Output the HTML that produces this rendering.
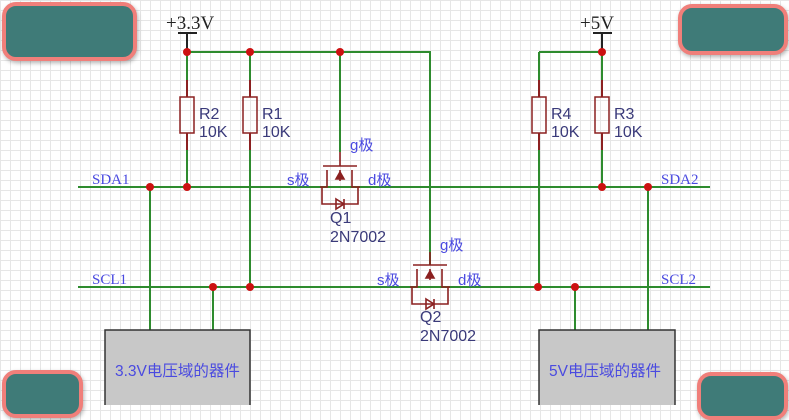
<!DOCTYPE html>
<html><head><meta charset="utf-8"><style>
html,body{margin:0;padding:0;}
body{width:789px;height:405px;overflow:hidden;background:#fff;
background-image:linear-gradient(#e6e6e6 1px,transparent 1px),linear-gradient(90deg,#e6e6e6 1px,transparent 1px);background-size:10px 10px;position:relative;font-family:"Liberation Sans","Noto Sans CJK SC",sans-serif;}
svg{position:absolute;left:0;top:0}
.tb{position:absolute;background:#3f7b78;border:4px solid #f07f7a;border-radius:14px;box-shadow:1px 2px 4px rgba(0,0,0,.3)}
</style></head><body>
<svg width="789" height="405" xmlns="http://www.w3.org/2000/svg">
<g fill="none" stroke-width="2">
<path d="M178 33H197M187 33V52M593 33H612M602 33V52" stroke="#222"/>
<g stroke="#2e8b2e">
<path d="M187 52H430V265"/>
<path d="M187 52V80M187 150V187M250 52V80M250 150V287"/>
<path d="M340 52V152"/>
<path d="M539 52H602M539 52V80M539 150V287M602 52V80M602 150V187"/>
<path d="M78 187H710M78 287H710"/>
<path d="M150 187V330M213 287V330M648 187V330M575 287V330"/>
</g>
<g stroke="#8b2020">
<path d="M187 80V97M187 133V150M250 80V97M250 133V150M539 80V97M539 133V150M602 80V97M602 133V150"/>
<rect x="180" y="97" width="14" height="36" stroke-width="1.5"/>
<rect x="243" y="97" width="14" height="36" stroke-width="1.5"/>
<rect x="532" y="97" width="14" height="36" stroke-width="1.5"/>
<rect x="595" y="97" width="14" height="36" stroke-width="1.5"/>
</g>
<g stroke="#8b2020" stroke-width="1.6">
<path d="M340 152V166M323 166H357M327 170V187H320M352 170V187H360M340 170V181M322 187V204H358V187"/>
<path d="M336 179L340 172L344 179Z" fill="#8b2020"/>
<path d="M336 199L344 204L336 209Z"/><path d="M344 199V209"/>
<path d="M430 252V265M413 265H447M417 269V287H410M442 269V287H450M430 269V280M412 287V304H448V287"/>
<path d="M426 278L430 271L434 278Z" fill="#8b2020"/>
<path d="M426 299L434 304L426 309Z"/><path d="M434 299V309"/>
</g>
</g>
<g fill="#cc1111">
<circle cx="187" cy="52" r="4"/><circle cx="250" cy="52" r="4"/><circle cx="340" cy="52" r="4"/><circle cx="602" cy="52" r="4"/>
<circle cx="150" cy="187" r="4"/><circle cx="187" cy="187" r="4"/><circle cx="602" cy="187" r="4"/><circle cx="648" cy="187" r="4"/>
<circle cx="213" cy="287" r="4"/><circle cx="250" cy="287" r="4"/><circle cx="538" cy="287" r="4"/><circle cx="575" cy="287" r="4"/>
</g>
<rect x="105" y="330" width="145" height="80" fill="#c8c8c8" stroke="#333" stroke-width="1.5"/>
<rect x="539" y="330" width="136" height="80" fill="#c8c8c8" stroke="#333" stroke-width="1.5"/>
<g font-family="Liberation Serif,serif" font-size="19" fill="#222">
<text x="166" y="29">+3.3V</text><text x="580" y="29">+5V</text>
</g>
<g font-family="Liberation Serif,serif" font-size="15" fill="#4a4ae0">
<text x="92" y="184">SDA1</text><text x="92" y="284">SCL1</text>
<text x="661" y="184">SDA2</text><text x="661" y="284">SCL2</text>
</g>
<g font-size="16" fill="#3a3a7a">
<text x="199" y="119">R2</text><text x="199" y="137">10K</text>
<text x="262" y="119">R1</text><text x="262" y="137">10K</text>
<text x="551" y="119">R4</text><text x="551" y="137">10K</text>
<text x="614" y="119">R3</text><text x="614" y="137">10K</text>
<text x="330" y="223">Q1</text><text x="330" y="242">2N7002</text>
<text x="420" y="322">Q2</text><text x="420" y="341">2N7002</text>
</g>
<g font-size="15" fill="#4a4ae0">
<text x="350" y="150">g极</text><text x="287" y="185">s极</text><text x="368" y="185">d极</text>
<text x="440" y="250">g极</text><text x="377" y="285">s极</text><text x="458" y="285">d极</text>
<text x="115" y="376" font-size="15.5">3.3V电压域的器件</text>
<text x="549" y="376" font-size="15.5">5V电压域的器件</text>
</g>
</svg>
<div class="tb" style="left:2px;top:2px;width:127px;height:51px"></div>
<div class="tb" style="left:678px;top:4px;width:102px;height:43px"></div>
<div class="tb" style="left:2px;top:370px;width:73px;height:40px"></div>
<div class="tb" style="left:697px;top:372px;width:83px;height:40px"></div>
</body></html>
